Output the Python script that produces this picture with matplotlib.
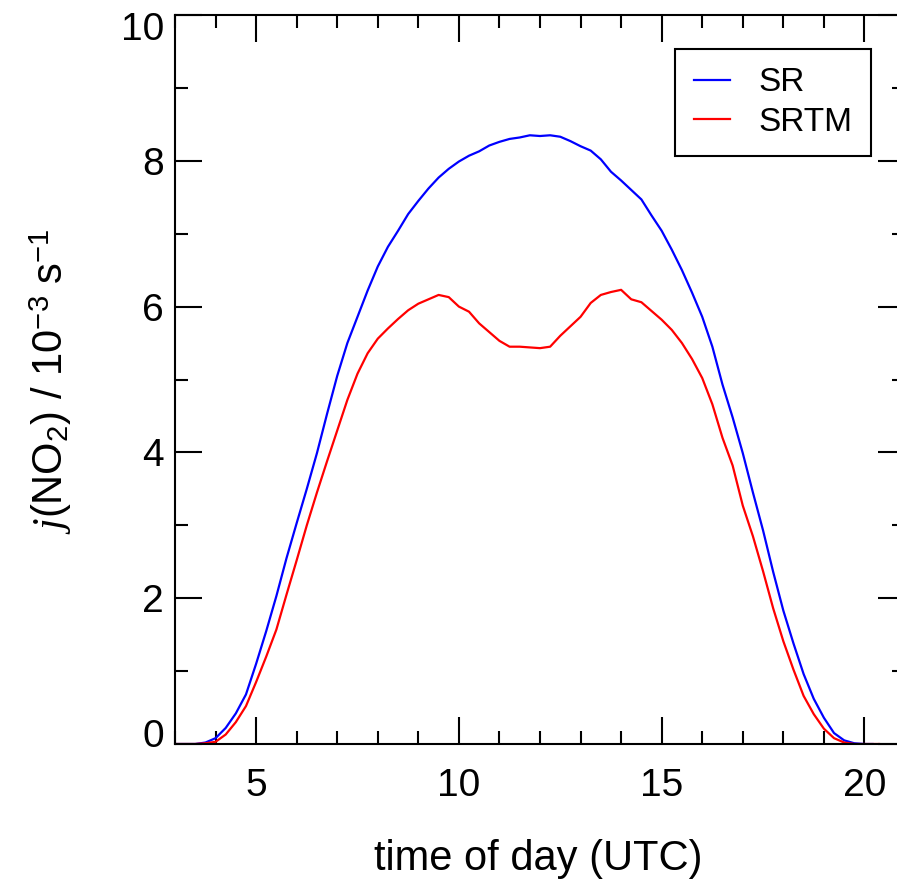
import numpy as np
import matplotlib
matplotlib.use('Agg')
import matplotlib.pyplot as plt
from matplotlib.ticker import MultipleLocator
from matplotlib.transforms import ScaledTranslation

plt.rcParams['font.family'] = ['Liberation Sans', 'DejaVu Sans']
plt.rcParams['mathtext.fontset'] = 'custom'
plt.rcParams['mathtext.rm'] = 'Liberation Sans'
plt.rcParams['mathtext.it'] = 'Liberation Serif:italic'

# time of day (UTC), hours
t_sr = [3.0, 3.5, 3.75, 4.0, 4.25, 4.5, 4.75, 5.0, 5.25, 5.5, 5.75, 6.0, 6.25, 6.5, 6.75,
        7.0, 7.25, 7.5, 7.75, 8.0, 8.25, 8.5, 8.75, 9.0, 9.25, 9.5, 9.75, 10.0, 10.25,
        10.5, 10.75, 11.0, 11.25, 11.5, 11.75, 12.0, 12.25, 12.5, 12.75, 13.0, 13.25,
        13.5, 13.75, 14.0, 14.25, 14.5, 14.75, 15.0, 15.25, 15.5, 15.75, 16.0, 16.25,
        16.5, 16.75, 17.0, 17.25, 17.5, 17.75, 18.0, 18.25, 18.5, 18.75, 19.0, 19.25,
        19.5, 19.75, 20.0, 20.2]
j_sr = [0.0, 0.0, 0.02, 0.08, 0.22, 0.42, 0.68, 1.10, 1.55, 2.03, 2.55, 3.03, 3.50, 3.99, 4.53,
        5.05, 5.50, 5.86, 6.22, 6.55, 6.82, 7.04, 7.27, 7.45, 7.62, 7.77, 7.89, 7.99, 8.07,
        8.13, 8.21, 8.26, 8.30, 8.32, 8.35, 8.34, 8.35, 8.33, 8.27, 8.20, 8.14,
        8.02, 7.85, 7.73, 7.60, 7.47, 7.25, 7.04, 6.78, 6.50, 6.19, 5.86, 5.45,
        4.93, 4.48, 3.99, 3.45, 2.93, 2.36, 1.83, 1.38, 0.96, 0.62, 0.36, 0.15,
        0.05, 0.01, 0.0, 0.0]

t_srtm = [3.0, 3.5, 3.75, 4.0, 4.25, 4.5, 4.75, 5.0, 5.25, 5.5, 5.75, 6.0, 6.25, 6.5, 6.75,
          7.0, 7.25, 7.5, 7.75, 8.0, 8.25, 8.5, 8.75, 9.0, 9.25, 9.5, 9.75, 10.0, 10.25,
          10.5, 10.75, 11.0, 11.25, 11.5, 11.75, 12.0, 12.25, 12.5, 12.75, 13.0, 13.25,
          13.5, 13.75, 14.0, 14.25, 14.5, 14.75, 15.0, 15.25, 15.5, 15.75, 16.0, 16.25,
          16.5, 16.75, 17.0, 17.25, 17.5, 17.75, 18.0, 18.25, 18.5, 18.75, 19.0, 19.25,
          19.5, 19.75, 20.36]
j_srtm = [0.0, 0.0, 0.01, 0.03, 0.13, 0.30, 0.52, 0.85, 1.20, 1.57, 2.05, 2.52, 3.00, 3.45, 3.88,
          4.30, 4.72, 5.08, 5.36, 5.56, 5.70, 5.83, 5.95, 6.04, 6.10, 6.16, 6.13, 6.00, 5.93,
          5.77, 5.65, 5.53, 5.45, 5.45, 5.44, 5.43, 5.45, 5.60, 5.73, 5.86, 6.05,
          6.16, 6.20, 6.23, 6.10, 6.06, 5.94, 5.82, 5.68, 5.50, 5.28, 5.02, 4.66,
          4.20, 3.82, 3.27, 2.85, 2.37, 1.86, 1.41, 1.02, 0.66, 0.41, 0.21, 0.08,
          0.02, 0.0, 0.0]

fig = plt.figure(figsize=(8.97, 8.85), dpi=100)
ax = fig.add_axes([175/897, 1-744/885, 730/897, 729/885])

ax.plot(t_sr, j_sr, color='#0000ff', lw=1.6, label='SR')
ax.plot(t_srtm, j_srtm, color='#ff0000', lw=1.6, label='SRTM')

ax.set_xlim(3, 21)
ax.set_ylim(0, 10)
ax.xaxis.set_major_locator(MultipleLocator(5))
ax.xaxis.set_minor_locator(MultipleLocator(1))
ax.yaxis.set_major_locator(MultipleLocator(2))
ax.yaxis.set_minor_locator(MultipleLocator(1))
for s in ax.spines.values():
    s.set_linewidth(1.5)
ax.tick_params(which='both', direction='in', top=True, right=True, width=1.5, labelsize=28)
ax.tick_params(which='major', length=19.5)
ax.tick_params(which='minor', length=9.5)
ax.tick_params(axis='y', pad=8)
ax.tick_params(axis='x', pad=17)

ax.set_xlabel('time of day (UTC)', fontsize=30)
ax.xaxis.set_label_coords(0.497, -0.131)
ax.set_ylabel(r'$\mathit{j}$(NO$_2$) / 10$^{-3}$ s$^{-1}$', fontsize=30)
ax.yaxis.set_label_coords(-0.138, 0.498)

leg = ax.legend(loc='upper right', bbox_to_anchor=(0.9534, 0.9534), borderaxespad=0,
                fontsize=24, fancybox=False, framealpha=1, edgecolor='black',
                handlelength=1.1, handletextpad=0.85, borderpad=0.55, labelspacing=0.25)
leg.get_frame().set_linewidth(1.5)

# nudge end labels inside like the original
fig.canvas.draw()
for tk in ax.yaxis.get_major_ticks():
    loc = tk.get_loc()
    if abs(loc - 10) < 1e-6:
        tk.label1.set_transform(tk.label1.get_transform() + ScaledTranslation(0, -0.11, fig.dpi_scale_trans))
    elif abs(loc) < 1e-6:
        tk.label1.set_transform(tk.label1.get_transform() + ScaledTranslation(0, 0.11, fig.dpi_scale_trans))

fig.savefig('out.png', dpi=100)
